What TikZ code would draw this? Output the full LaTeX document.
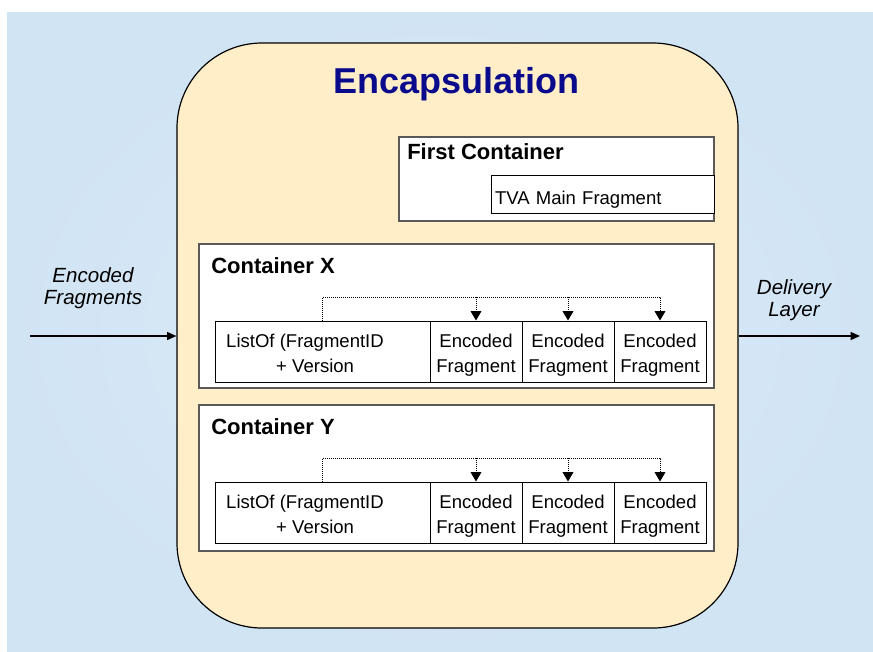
\documentclass[tikz,border=0pt]{standalone}
\usepackage{fontspec}
\setmainfont{Liberation Sans}
\usetikzlibrary{arrows.meta}
\definecolor{bgblue}{RGB}{209,228,244}
\definecolor{bgblueC}{RGB}{220,235,248}
\definecolor{encfill}{RGB}{255,238,200}
\definecolor{navytext}{RGB}{10,10,140}
\newcommand\twolines[2]{\begin{tabular}[t]{@{}c@{}}#1\\#2\end{tabular}}
\begin{document}
\begin{tikzpicture}[x=0.75pt,y=-0.75pt,
  font=\fontsize{13.9}{19}\selectfont,
  encbox/.style={draw=black, line width=0.9pt, fill=encfill, rounded corners=63.75pt,
    minimum width=420.75pt, minimum height=438.75pt, inner sep=0pt},
  contbox/.style={draw=black!65, line width=0.9pt, fill=white, inner sep=0pt},
  cellbox/.style={draw=black, line width=0.75pt, fill=white, inner sep=0pt,
    minimum width=69pt, text height=19.5pt, text depth=26.25pt},
  listbox/.style={cellbox, minimum width=161.25pt},
  titletext/.style={font=\fontsize{16.5}{19}\selectfont\bfseries, anchor=base west, inner sep=0pt},
  sidetext/.style={font=\fontsize{15.4}{16.5}\selectfont\itshape, anchor=base, inner sep=0pt},
  dotline/.style={line width=0.75pt, dash pattern=on 0.75pt off 0.75pt},
  dotarrow/.style={dotline, -{Triangle[length=7pt,width=8pt]}},
  mainarrow/.style={line width=0.9pt, -{Triangle[length=7pt,width=6pt]}}]
\useasboundingbox (0,0) rectangle (873,651);
\fill[white] (0,0) rectangle (873,651);
\shade[inner color=bgblueC, outer color=bgblue] (7,12) rectangle (873,651);

% encapsulation
\node[encbox] (enc) at (457.5,335.5) {};
\node[anchor=base, inner sep=0pt, text=navytext,
  font=\fontsize{27}{30}\selectfont\bfseries] (enctitle) at (456.5,93) {Encapsulation};

% first container
\node[contbox, minimum width=236.25pt, minimum height=63pt] (first) at (556.5,179) {};
\node[titletext] (firsttitle) at (407,159) {First Container};
\node[draw=black, line width=0.75pt, fill=white, inner xsep=3pt, inner ysep=0pt,
  text width=161.25pt, align=left, text height=21.75pt, text depth=6.75pt] (tva) at (602.5,194) {TVA Main Fragment};

% container X
\node[contbox, minimum width=386.25pt, minimum height=108pt] (contX) at (456.5,316) {};
\node[titletext] (contXtitle) at (211,273) {Container X};
\node[listbox] (listX) at (322.5,351.5) {\begin{tabular}[t]{@{}l@{\hspace{26.25pt}}}ListOf (FragmentID\\\hspace*{37.5pt}+ Version\end{tabular}};
\node[cellbox] (eX1) at (476,351.5) {\twolines{Encoded}{Fragment}};
\node[cellbox] (eX2) at (568,351.5) {\twolines{Encoded}{Fragment}};
\node[cellbox] (eX3) at (660,351.5) {\twolines{Encoded}{Fragment}};
\coordinate (hubX) at (660,297);
\draw[dotarrow] (listX.north) |- (hubX) -- (eX3.north);
\draw[dotarrow] (eX1.north |- hubX) -- (eX1.north);
\draw[dotarrow] (eX2.north |- hubX) -- (eX2.north);

% container Y
\node[contbox, minimum width=386.25pt, minimum height=109.5pt] (contY) at (456.5,478) {};
\node[titletext] (contYtitle) at (211,434) {Container Y};
\node[listbox] (listY) at (322.5,512.5) {\begin{tabular}[t]{@{}l@{\hspace{26.25pt}}}ListOf (FragmentID\\\hspace*{37.5pt}+ Version\end{tabular}};
\node[cellbox] (eY1) at (476,512.5) {\twolines{Encoded}{Fragment}};
\node[cellbox] (eY2) at (568,512.5) {\twolines{Encoded}{Fragment}};
\node[cellbox] (eY3) at (660,512.5) {\twolines{Encoded}{Fragment}};
\coordinate (hubY) at (660,458);
\draw[dotarrow] (listY.north) |- (hubY) -- (eY3.north);
\draw[dotarrow] (eY1.north |- hubY) -- (eY1.north);
\draw[dotarrow] (eY2.north |- hubY) -- (eY2.north);

% side labels and arrows
\node[sidetext] (inlabel) at (93,282) {\twolines{Encoded}{Fragments}};
\node[sidetext] (outlabel) at (794,294) {\twolines{Delivery}{Layer}};
\coordinate (inL) at (30,336);
\coordinate (outR) at (860,336);
\draw[mainarrow] (inL) -- (inL -| enc.west);
\draw[mainarrow] (enc.east |- outR) -- (outR);
\end{tikzpicture}
\end{document}
